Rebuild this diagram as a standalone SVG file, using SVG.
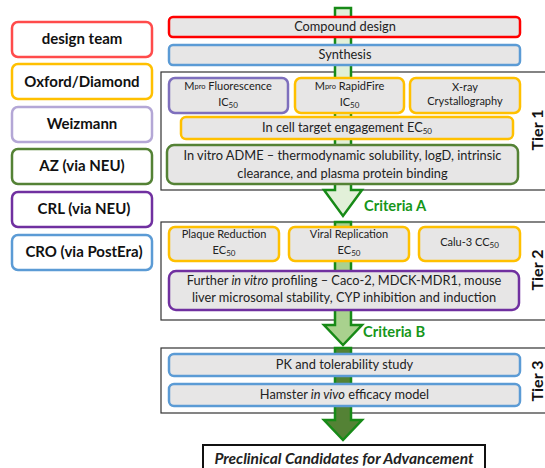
<svg xmlns="http://www.w3.org/2000/svg" width="545" height="468" viewBox="0 0 545 468">
<style>
text{font-family:Lato,"Open Sans","Liberation Sans",sans-serif;fill:#222;}
.leg{fill:#fff;stroke-width:2.5;}
.lt{font-size:15px;font-weight:bold;text-anchor:middle;fill:#111;}
.box{fill:#e7e6e6;stroke-width:2.5;}
.t{text-anchor:middle;font-size:12.8px;}
.s{text-anchor:middle;font-size:11px;}
.sub{font-size:8px;}
.tier{fill:none;stroke:#333;stroke-width:1.2;}
.tl{font-size:16px;font-weight:bold;text-anchor:middle;fill:#111;}
.crit{font-size:14.7px;font-weight:bold;fill:#16961a;}
.arr{stroke:#178a17;stroke-width:2.5;stroke-linejoin:miter;}
.red{stroke:#ff0000}.red2{stroke:#ff4b4b}.yel{stroke:#ffc000}.lav{stroke:#b4a7d6}.grn{stroke:#548235}.pur{stroke:#7030a0}.blu{stroke:#5b9bd5}.bpur{stroke:#7e6fbd}
</style>
<g id="legend">
<g id="leg-design"><rect class="leg red2" x="12" y="22" width="140" height="35" rx="6"/><text class="lt" x="82" y="44">design team</text></g>
<g id="leg-oxford"><rect class="leg yel" x="12" y="64" width="140" height="35" rx="6"/><text class="lt" x="82" y="87">Oxford/Diamond</text></g>
<g id="leg-weizmann"><rect class="leg lav" x="12" y="107" width="140" height="35" rx="6"/><text class="lt" x="82" y="129">Weizmann</text></g>
<g id="leg-az"><rect class="leg grn" x="12" y="149" width="140" height="35" rx="6"/><text class="lt" x="82" y="171">AZ (via NEU)</text></g>
<g id="leg-crl"><rect class="leg pur" x="12" y="192" width="140" height="35" rx="6"/><text class="lt" x="84" y="214">CRL (via NEU)</text></g>
<g id="leg-cro"><rect class="leg blu" x="12" y="235" width="140" height="35" rx="6"/><text class="lt" x="84" y="257">CRO (via PostEra)</text></g>
</g>
<g id="tiers">
<rect class="tier" x="161" y="72" width="390" height="118"/>
<rect class="tier" x="161" y="222" width="390" height="98"/>
<rect class="tier" x="161" y="348" width="390" height="65"/>
</g>
<g id="connectors">
<polygon class="arr" fill="#e2f0d9" points="335,8 351,8 351,190 362,190 343,216 324,190 335,190"/>
<polygon class="arr" fill="#a9d18e" points="335,222 351,222 351,325 362,325 343,345 324,325 335,325"/>
<polygon class="arr" fill="#548235" points="335,348 351,348 351,420 362,420 343,440 324,420 335,420"/>
<text class="crit" x="364" y="211">Criteria A</text>
<text class="crit" x="363" y="337">Criteria B</text>
</g>
<g id="compound"><rect class="box red" x="169" y="17" width="351" height="20" rx="4"/><text class="t" x="345" y="31">Compound design</text></g>
<g id="synthesis"><rect class="box blu" x="169" y="45" width="351" height="20" rx="4"/><text class="t" x="345" y="59">Synthesis</text></g>
<g id="tier1">
<g id="mpro-fluor"><rect class="box bpur" x="169" y="78" width="119" height="35" rx="6"/><text class="s" x="228" y="90">M<tspan font-size="7.5" dy="-1">pro</tspan><tspan dy="1"> Fluorescence</tspan></text><text class="s" x="228" y="106">IC<tspan class="sub" dy="2">50</tspan></text></g>
<g id="mpro-rapid"><rect class="box yel" x="295" y="78" width="109" height="35" rx="6"/><text class="s" x="349.5" y="90">M<tspan font-size="7.5" dy="-1">pro</tspan><tspan dy="1"> RapidFire</tspan></text><text class="s" x="349.5" y="106">IC<tspan class="sub" dy="2">50</tspan></text></g>
<g id="xray"><rect class="box yel" x="410" y="78" width="110" height="35" rx="6"/><text class="s" x="465" y="91">X-ray</text><text class="s" x="465" y="105">Crystallography</text></g>
<g id="incell"><rect class="box yel" x="181" y="117" width="332" height="22" rx="5"/><text class="t" x="347" y="132">In cell target engagement EC<tspan class="sub" font-size="9" dy="2">50</tspan></text></g>
<g id="adme"><rect class="box grn" x="167" y="145" width="351" height="39" rx="7"/><text class="t" x="342.5" y="160">In vitro ADME – thermodynamic solubility, logD, intrinsic</text><text class="t" x="342.5" y="178">clearance, and plasma protein binding</text></g>
<text class="tl" transform="translate(543,130) rotate(-90)">Tier 1</text>
</g>
<g id="tier2">
<g id="plaque"><rect class="box yel" x="169" y="227" width="110" height="34" rx="6"/><text class="s" x="224" y="238">Plaque Reduction</text><text class="s" x="224" y="254">EC<tspan class="sub" dy="2">50</tspan></text></g>
<g id="viral"><rect class="box yel" x="289" y="227" width="120" height="34" rx="6"/><text class="s" x="349" y="238">Viral Replication</text><text class="s" x="349" y="254">EC<tspan class="sub" dy="2">50</tspan></text></g>
<g id="calu"><rect class="box yel" x="419" y="227" width="101" height="34" rx="6"/><text class="s" x="469.5" y="246">Calu-3 CC<tspan class="sub" dy="2">50</tspan></text></g>
<g id="further"><rect class="box pur" x="169" y="271" width="350" height="39" rx="7"/><text class="t" x="344" y="285">Further <tspan font-style="italic">in vitro</tspan> profiling – Caco-2, MDCK-MDR1, mouse</text><text class="t" x="344" y="302">liver microsomal stability, CYP inhibition and induction</text></g>
<text class="tl" transform="translate(543,270) rotate(-90)">Tier 2</text>
</g>
<g id="tier3">
<g id="pk"><rect class="box blu" x="169" y="354" width="351" height="22" rx="5"/><text class="t" x="344.5" y="369">PK and tolerability study</text></g>
<g id="hamster"><rect class="box blu" x="169" y="384" width="351" height="22" rx="5"/><text class="t" x="344.5" y="399">Hamster <tspan font-style="italic">in vivo</tspan> efficacy model</text></g>
<text class="tl" transform="translate(543,381) rotate(-90)">Tier 3</text>
</g>
<g id="preclinical"><rect x="203" y="445" width="282" height="30" fill="#fff" stroke="#111" stroke-width="2"/><text x="344" y="464" text-anchor="middle" font-size="15.5" font-weight="bold" font-style="italic" fill="#111">Preclinical Candidates for Advancement</text></g>
</svg>
